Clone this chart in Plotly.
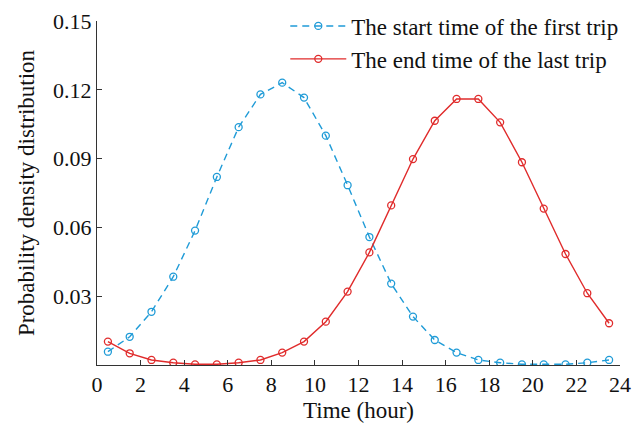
import plotly.graph_objects as go

hours = [0.5, 1.5, 2.5, 3.5, 4.5, 5.5, 6.5, 7.5, 8.5, 9.5, 10.5, 11.5,
         12.5, 13.5, 14.5, 15.5, 16.5, 17.5, 18.5, 19.5, 20.5, 21.5, 22.5, 23.5]

first_trip_start = [0.0058, 0.0123, 0.0232, 0.0385, 0.0586, 0.0820, 0.1037, 0.1180,
                    0.1231, 0.1166, 0.1000, 0.0784, 0.0558, 0.0355, 0.0211, 0.0109,
                    0.0054, 0.0022, 0.0010, 0.0003, 0.0003, 0.0003, 0.0010, 0.0022]

last_trip_end = [0.0102, 0.0051, 0.0022, 0.0010, 0.0003, 0.0003, 0.0010, 0.0022,
                 0.0054, 0.0102, 0.0189, 0.0320, 0.0491, 0.0696, 0.0898, 0.1065,
                 0.1160, 0.1160, 0.1058, 0.0884, 0.0682, 0.0484, 0.0313, 0.0182]

x_ticks = [0, 2, 4, 6, 8, 10, 12, 14, 16, 18, 20, 22, 24]
y_ticks = [0.03, 0.06, 0.09, 0.12, 0.15]
y_tick_labels = ["0.03", "0.06", "0.09", "0.12", "0.15"]

BLUE = "#1f9bd7"
RED = "#e02b2b"
FONT = "Liberation Serif"

fig = go.Figure()
fig.add_trace(go.Scatter(
    x=hours, y=first_trip_start, mode="lines+markers",
    name="The start time of the first trip",
    line=dict(color=BLUE, width=1.4, dash="7px,5px"),
    marker=dict(symbol="circle-open", size=7, color=BLUE, line=dict(width=1.3, color=BLUE)),
))
fig.add_trace(go.Scatter(
    x=hours, y=last_trip_end, mode="lines+markers",
    name="The end time of the last trip",
    line=dict(color=RED, width=1.4),
    marker=dict(symbol="circle-open", size=7, color=RED, line=dict(width=1.3, color=RED)),
))

fig.update_layout(
    width=632, height=423,
    margin=dict(l=97, r=12, t=21, b=58, autoexpand=False),
    paper_bgcolor="white", plot_bgcolor="white",
    font=dict(family=FONT, size=22, color="#111"),
    showlegend=True,
    legend=dict(x=0.36, y=1.048, xanchor="left", yanchor="top",
                bgcolor="rgba(0,0,0,0)", font=dict(family=FONT, size=23),
                itemwidth=56, tracegroupgap=0),
)
fig.update_xaxes(
    range=[0, 24], tickvals=x_ticks, ticks="inside", ticklen=5, tickwidth=1,
    tickcolor="#333", showline=True, linecolor="#333", linewidth=1,
    showgrid=False, zeroline=False, tickfont=dict(size=22), automargin=False,
    title=dict(text="Time (hour)", font=dict(size=23), standoff=6),
)
fig.update_yaxes(
    range=[0, 0.15], tickvals=y_ticks, ticktext=y_tick_labels, ticks="inside",
    ticklen=5, tickwidth=1, tickcolor="#333", showline=True, linecolor="#333",
    linewidth=1, showgrid=False, zeroline=False, tickfont=dict(size=22), automargin=False,
    title=dict(text="Probability density distribution", font=dict(size=23), standoff=12),
)

fig.write_html("out.html")
